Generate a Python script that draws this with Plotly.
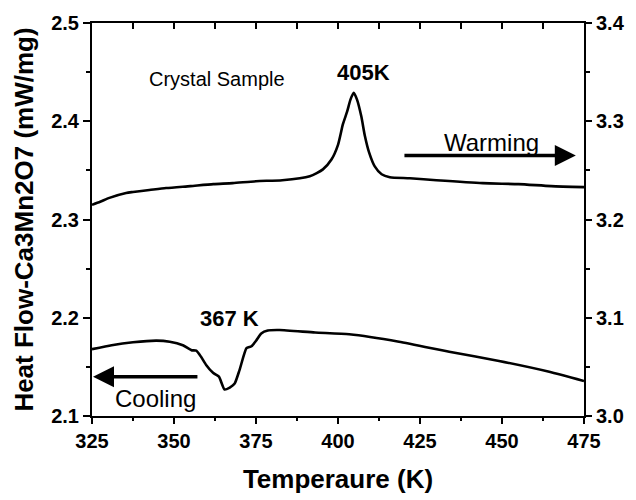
import plotly.graph_objects as go

# Warming scan (left axis)
warm_T = [325, 327.5, 330.3, 335.4, 337.5, 342.5, 347.6, 355, 362, 367.9, 375, 383, 391.4, 395.4,
          398.0, 400.0, 401.5, 402.8, 403.8, 404.8, 405.8, 407.1, 408.2, 409.5, 411.2, 413.3,
          415.8, 421.9, 430, 444.1, 455, 465, 475]
warm_HF = [2.315, 2.318, 2.322, 2.327, 2.328, 2.330, 2.332, 2.334, 2.336, 2.337, 2.339, 2.340,
           2.344, 2.351, 2.361, 2.376, 2.397, 2.410, 2.422, 2.429, 2.422, 2.405, 2.385, 2.368,
           2.354, 2.346, 2.343, 2.342, 2.340, 2.337, 2.336, 2.334, 2.333]

# Cooling scan (right axis)
cool_T = [325, 331, 337.5, 344.6, 348.7, 352.7, 355.3, 356.8, 358.3, 359.8, 361.9, 363.7, 365.4,
          367.0, 368.5, 370.0, 372.1, 373.6, 375.1, 376.6, 378.6, 382.2, 393, 403.4, 418.6,
          433.9, 449.1, 464.4, 475]
cool_HF = [3.068, 3.072, 3.075, 3.0767, 3.0756, 3.072, 3.067, 3.0665, 3.060, 3.052, 3.044, 3.040,
           3.027, 3.029, 3.033, 3.047, 3.069, 3.071, 3.077, 3.084, 3.087, 3.0875, 3.085, 3.0832,
           3.0756, 3.0654, 3.056, 3.045, 3.0356]

x_range = [325, 475]
y_left_range = [2.1, 2.5]
y_right_range = [3.0, 3.4]

x_tickvals = [325, 350, 375, 400, 425, 450, 475]
x_ticktext = ["325", "350", "375", "400", "425", "450", "475"]
top_tickvals = [337.5, 350, 362.5, 375, 387.5, 400, 412.5, 425, 437.5, 450, 462.5]
yl_tickvals = [2.1, 2.2, 2.3, 2.4, 2.5]
yl_ticktext = ["2.1", "2.2", "2.3", "2.4", "2.5"]
yr_tickvals = [3.0, 3.1, 3.2, 3.3, 3.4]
yr_ticktext = ["3.0", "3.1", "3.2", "3.3", "3.4"]

FONT = "Arial, Liberation Sans, sans-serif"


def bold(labels):
    return ["<b>%s</b>" % s for s in labels]


fig = go.Figure()
fig.add_trace(go.Scatter(x=warm_T, y=warm_HF, mode="lines",
                         line=dict(color="black", width=2.6, shape="spline", smoothing=0.6),
                         xaxis="x", yaxis="y", showlegend=False))
fig.add_trace(go.Scatter(x=cool_T, y=cool_HF, mode="lines",
                         line=dict(color="black", width=2.6, shape="spline", smoothing=0.5),
                         xaxis="x", yaxis="y2", showlegend=False))

tickfont = dict(family=FONT, size=20, color="black", weight="bold")

fig.update_layout(
    width=636, height=500,
    margin=dict(l=92, r=52, t=23, b=84),
    paper_bgcolor="white", plot_bgcolor="white",
    font=dict(family=FONT, color="black"),
    xaxis=dict(range=x_range, tickmode="array", tickvals=x_tickvals, ticktext=bold(x_ticktext),
               showgrid=False, zeroline=False, mirror=True,
               showline=True, linecolor="black", linewidth=2, ticks="outside",
               ticklen=6, tickwidth=2, tickcolor="black", tickfont=tickfont,
               minor=dict(dtick=12.5, tick0=325, ticks="outside", ticklen=3, tickwidth=2,
                          tickcolor="black", showgrid=False),
               title=dict(text="Temperaure (K)", standoff=19,
                          font=dict(family=FONT, size=26, color="black", weight="bold"))),
    yaxis=dict(range=y_left_range, tickmode="array", tickvals=yl_tickvals,
               ticktext=bold(yl_ticktext), showgrid=False, zeroline=False,
               showline=True, linecolor="black", linewidth=2, ticks="outside",
               ticklen=7, tickwidth=2, tickcolor="black", tickfont=tickfont,
               minor=dict(dtick=0.05, tick0=2.1, ticks="outside", ticklen=4, tickwidth=2,
                          tickcolor="black", showgrid=False),
               title=dict(text="Heat Flow-Ca3Mn2O7 (mW/mg)", standoff=10,
                          font=dict(family=FONT, size=26, color="black", weight="bold"))),
    yaxis2=dict(range=y_right_range, overlaying="y", side="right", anchor="x",
                tickmode="array", tickvals=yr_tickvals, ticktext=bold(yr_ticktext),
                showgrid=False, zeroline=False, showline=True, linecolor="black",
                linewidth=2, ticks="outside", ticklen=6, tickwidth=2, tickcolor="black",
                tickfont=tickfont,
                minor=dict(dtick=0.05, tick0=3.0, ticks="outside", ticklen=4, tickwidth=2,
                           tickcolor="black", showgrid=False)),
)

# inward tick marks along the top frame line
for tv in top_tickvals:
    fig.add_shape(type="line", xref="x", yref="y domain", x0=tv, x1=tv,
                  ysizemode="pixel", yanchor=1, y0=0, y1=-6,
                  line=dict(color="black", width=2), layer="above")

fig.add_annotation(x=363.1, y=2.443, xref="x", yref="y", text="Crystal Sample",
                   showarrow=False, font=dict(family=FONT, size=20, color="black"))
fig.add_annotation(x=407.9, y=2.450, xref="x", yref="y", text="<b>405K</b>",
                   showarrow=False, font=dict(family=FONT, size=22, color="black"))
fig.add_annotation(x=367.0, y=2.199, xref="x", yref="y", text="<b>367 K</b>",
                   showarrow=False, font=dict(family=FONT, size=22, color="black"))
fig.add_annotation(x=446.7, y=2.378, xref="x", yref="y", text="Warming",
                   showarrow=False, font=dict(family=FONT, size=24, color="black"))
fig.add_annotation(x=344.3, y=2.118, xref="x", yref="y", text="Cooling",
                   showarrow=False, font=dict(family=FONT, size=24, color="black"))

# arrows
fig.add_annotation(x=472.5, y=2.3652, ax=419.8, ay=2.3652, xref="x", yref="y",
                   axref="x", ayref="y", text="", showarrow=True, arrowhead=2,
                   arrowsize=1.2, arrowwidth=3.5, arrowcolor="black")
fig.add_annotation(x=325.3, y=2.140, ax=357.6, ay=2.140, xref="x", yref="y",
                   axref="x", ayref="y", text="", showarrow=True, arrowhead=2,
                   arrowsize=1.2, arrowwidth=3.5, arrowcolor="black")

fig.write_html("out.html", config={"displayModeBar": False},
               post_script="document.body.style.margin='0';document.body.style.overflow='hidden';")
